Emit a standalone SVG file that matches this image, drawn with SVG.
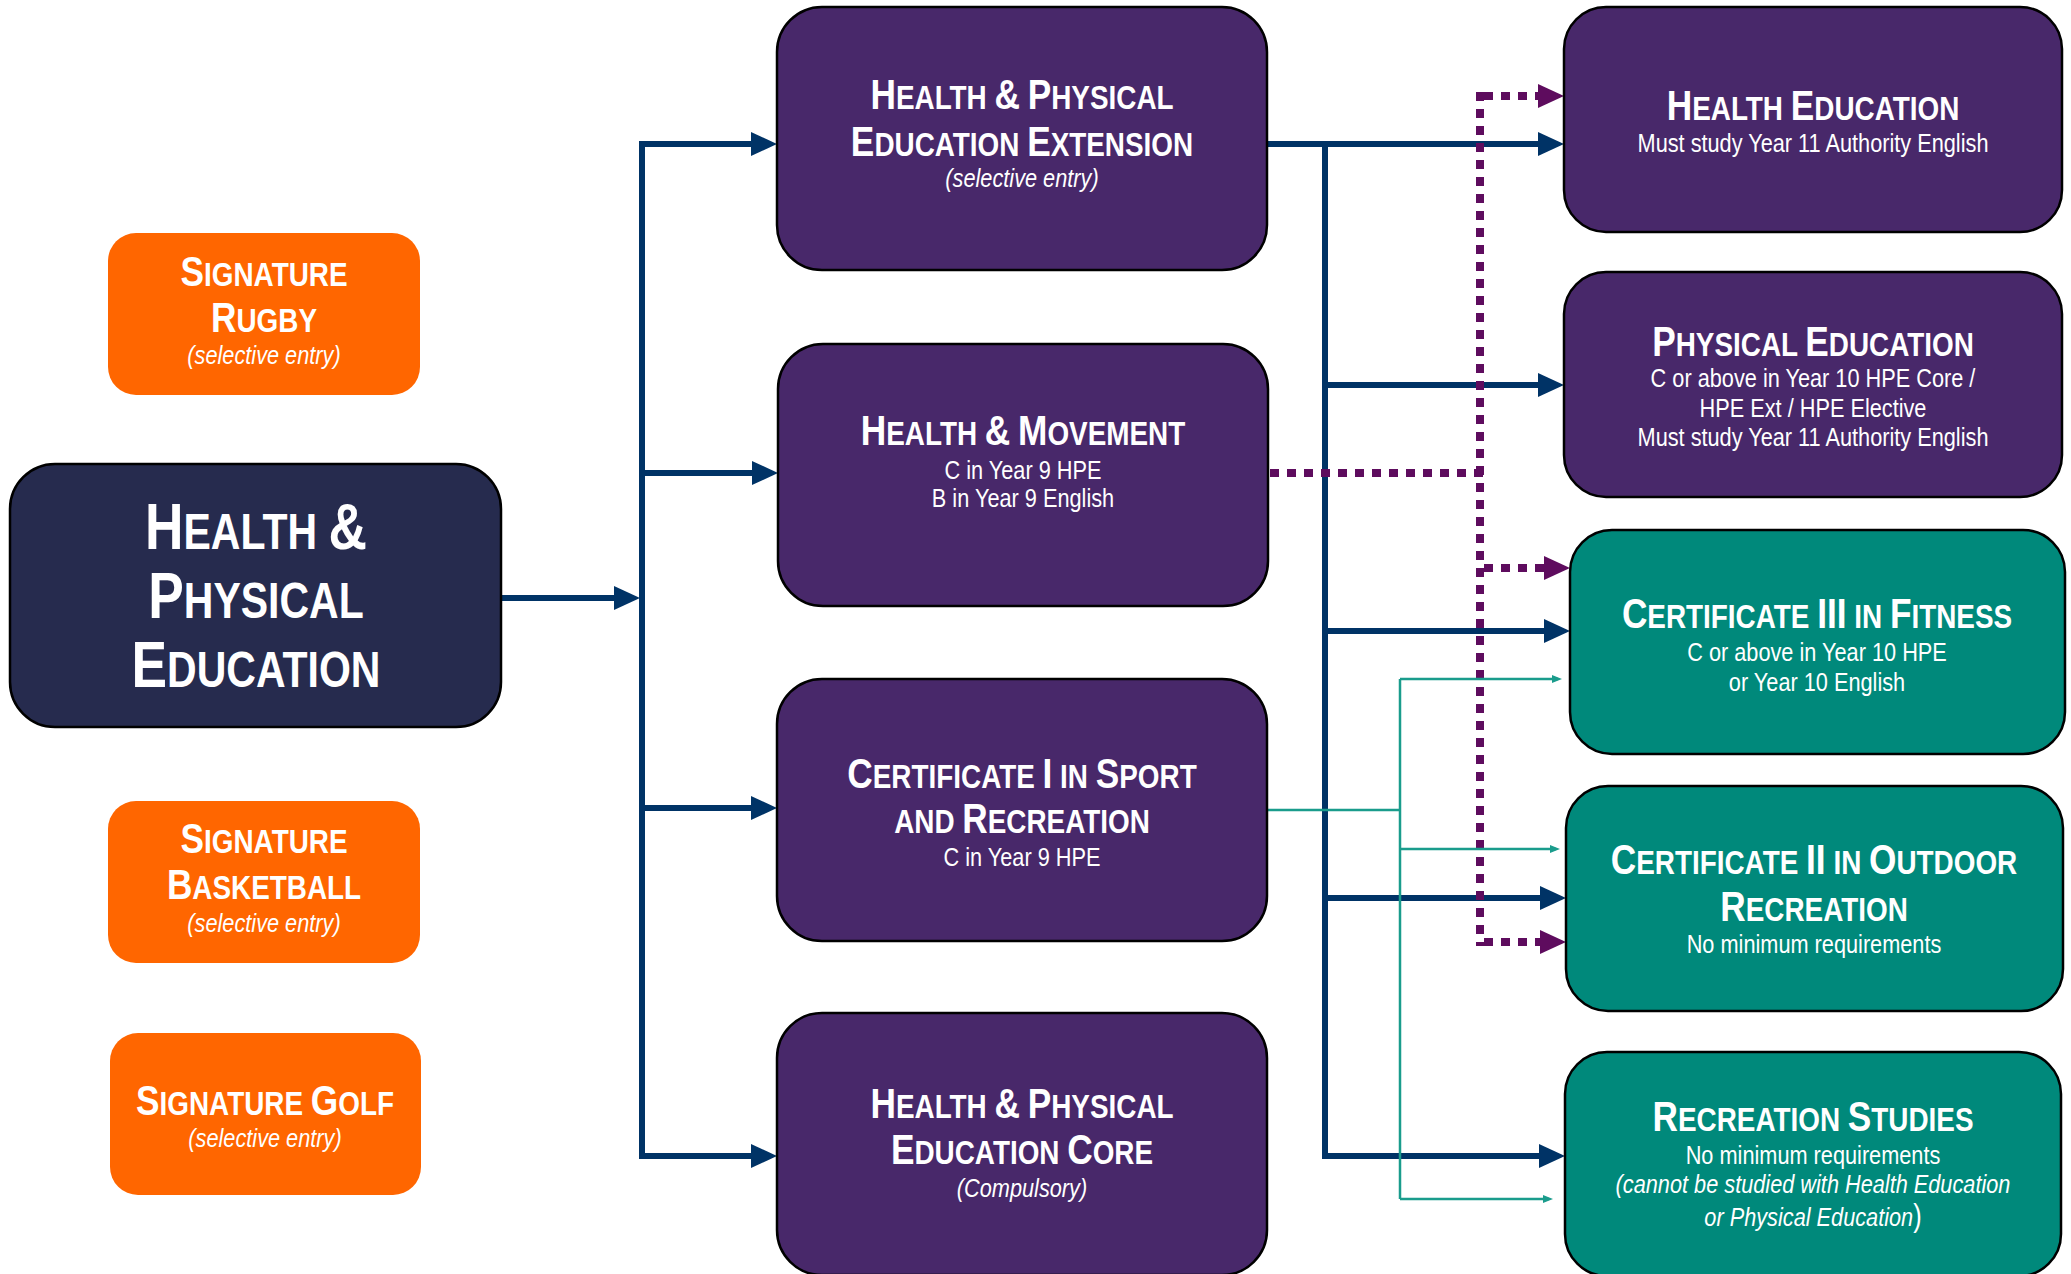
<svg xmlns="http://www.w3.org/2000/svg" width="2071" height="1274" viewBox="0 0 2071 1274">
<style>
.bx{stroke:#000;stroke-width:2.5}
.pu{fill:#48286A}
.te{fill:#00897B}
.or{fill:#FF6600}
.mn{fill:#262B4E}
text{font-family:'Liberation Sans',Arial,sans-serif;fill:#fff;text-anchor:middle}
.t{font-weight:bold;font-size:34px}
.t .L{font-size:43px}
.tm{font-weight:bold;font-size:50px}
.tm .L{font-size:65px}
.s{font-size:26.5px}
.i{font-style:italic}
.nv{stroke:#003366;stroke-width:6;fill:none}
.pd{stroke:#5E0C5E;stroke-width:8;fill:none;stroke-dasharray:9 8}
.tl{stroke:#1A9C8C;stroke-width:2.5;fill:none}
</style>
<defs>
<marker id="an" markerUnits="userSpaceOnUse" markerWidth="26" markerHeight="26" viewBox="0 0 26 26" refX="16" refY="13" orient="auto"><path d="M0,1 L26,13 L0,25 z" fill="#003366"/></marker>
<marker id="ap" markerUnits="userSpaceOnUse" markerWidth="26" markerHeight="26" viewBox="0 0 26 26" refX="16" refY="13" orient="auto"><path d="M0,1 L26,13 L0,25 z" fill="#5E0C5E"/></marker>
<marker id="at" markerUnits="userSpaceOnUse" markerWidth="10" markerHeight="10" viewBox="0 0 10 10" refX="6" refY="5" orient="auto"><path d="M0,1 L10,5 L0,9 z" fill="#1A9C8C"/></marker>
</defs>
<rect width="2071" height="1274" fill="#fff"/>
<g id="connectors">
<path class="nv" d="M501,598 H630" marker-end="url(#an)"/>
<path class="nv" d="M642,141 V1159"/>
<path class="nv" d="M642,144 H767" marker-end="url(#an)"/>
<path class="nv" d="M642,473 H768" marker-end="url(#an)"/>
<path class="nv" d="M642,808 H767" marker-end="url(#an)"/>
<path class="nv" d="M642,1156 H767" marker-end="url(#an)"/>
<path class="nv" d="M1267,144 H1554" marker-end="url(#an)"/>
<path class="nv" d="M1325,141 V1159"/>
<path class="nv" d="M1325,385 H1554" marker-end="url(#an)"/>
<path class="nv" d="M1325,631 H1560" marker-end="url(#an)"/>
<path class="nv" d="M1325,898 H1556" marker-end="url(#an)"/>
<path class="nv" d="M1325,1156 H1555" marker-end="url(#an)"/>
<path class="pd" d="M1270,473 H1484"/>
<path class="pd" d="M1480,92 V946"/>
<path class="pd" d="M1484,96 H1554" marker-end="url(#ap)"/>
<path class="pd" d="M1484,568 H1560" marker-end="url(#ap)"/>
<path class="pd" d="M1484,942 H1556" marker-end="url(#ap)"/>
<path class="tl" d="M1267,810 H1400"/>
<path class="tl" d="M1400,679 V1199"/>
<path class="tl" d="M1400,679 H1558" marker-end="url(#at)"/>
<path class="tl" d="M1400,849 H1556" marker-end="url(#at)"/>
<path class="tl" d="M1400,1199 H1549" marker-end="url(#at)"/>
</g>
<g id="main">
<rect class="bx mn" x="10" y="464" width="491" height="263" rx="45"/>
<g transform="translate(256 0) scale(0.82 1)">
<text class="tm" x="0" y="549"><tspan class="L">H</tspan>EALTH <tspan class="L">&amp;</tspan></text>
<text class="tm" x="0" y="618"><tspan class="L">P</tspan>HYSICAL</text>
<text class="tm" x="0" y="687"><tspan class="L">E</tspan>DUCATION</text>
</g>
</g>
<g id="sig-rugby">
<rect class="or" x="108" y="233" width="312" height="162" rx="28"/>
<g transform="translate(264 0) scale(0.82 1)">
<text class="t" x="0" y="286"><tspan class="L">S</tspan>IGNATURE</text>
<text class="t" x="0" y="332"><tspan class="L">R</tspan>UGBY</text>
<text class="s i" x="0" y="364">(selective entry)</text>
</g>
</g>
<g id="sig-basketball">
<rect class="or" x="108" y="801" width="312" height="162" rx="28"/>
<g transform="translate(264 0) scale(0.82 1)">
<text class="t" x="0" y="853"><tspan class="L">S</tspan>IGNATURE</text>
<text class="t" x="0" y="899"><tspan class="L">B</tspan>ASKETBALL</text>
<text class="s i" x="0" y="932">(selective entry)</text>
</g>
</g>
<g id="sig-golf">
<rect class="or" x="110" y="1033" width="311" height="162" rx="28"/>
<g transform="translate(265 0) scale(0.82 1)">
<text class="t" x="0" y="1115"><tspan class="L">S</tspan>IGNATURE <tspan class="L">G</tspan>OLF</text>
<text class="s i" x="0" y="1147">(selective entry)</text>
</g>
</g>
<g id="hpe-ext">
<rect class="bx pu" x="777" y="7" width="490" height="263" rx="45"/>
<g transform="translate(1022 0) scale(0.82 1)">
<text class="t" x="0" y="109"><tspan class="L">H</tspan>EALTH <tspan class="L">&amp;</tspan> <tspan class="L">P</tspan>HYSICAL</text>
<text class="t" x="0" y="156"><tspan class="L">E</tspan>DUCATION <tspan class="L">E</tspan>XTENSION</text>
<text class="s i" x="0" y="187">(selective entry)</text>
</g>
</g>
<g id="health-movement">
<rect class="bx pu" x="778" y="344" width="490" height="262" rx="45"/>
<g transform="translate(1023 0) scale(0.82 1)">
<text class="t" x="0" y="445"><tspan class="L">H</tspan>EALTH <tspan class="L">&amp;</tspan> <tspan class="L">M</tspan>OVEMENT</text>
<text class="s" x="0" y="479">C in Year 9 HPE</text>
<text class="s" x="0" y="507">B in Year 9 English</text>
</g>
</g>
<g id="cert-i">
<rect class="bx pu" x="777" y="679" width="490" height="262" rx="45"/>
<g transform="translate(1022 0) scale(0.82 1)">
<text class="t" x="0" y="788"><tspan class="L">C</tspan>ERTIFICATE <tspan class="L">I</tspan> IN <tspan class="L">S</tspan>PORT</text>
<text class="t" x="0" y="833">AND <tspan class="L">R</tspan>ECREATION</text>
<text class="s" x="0" y="866">C in Year 9 HPE</text>
</g>
</g>
<g id="hpe-core">
<rect class="bx pu" x="777" y="1013" width="490" height="262" rx="45"/>
<g transform="translate(1022 0) scale(0.82 1)">
<text class="t" x="0" y="1118"><tspan class="L">H</tspan>EALTH <tspan class="L">&amp;</tspan> <tspan class="L">P</tspan>HYSICAL</text>
<text class="t" x="0" y="1164"><tspan class="L">E</tspan>DUCATION <tspan class="L">C</tspan>ORE</text>
<text class="s i" x="0" y="1197">(Compulsory)</text>
</g>
</g>
<g id="health-ed">
<rect class="bx pu" x="1564" y="7" width="498" height="225" rx="42"/>
<g transform="translate(1813 0) scale(0.82 1)">
<text class="t" x="0" y="120"><tspan class="L">H</tspan>EALTH <tspan class="L">E</tspan>DUCATION</text>
<text class="s" x="0" y="152">Must study Year 11 Authority English</text>
</g>
</g>
<g id="phys-ed">
<rect class="bx pu" x="1564" y="272" width="498" height="225" rx="42"/>
<g transform="translate(1813 0) scale(0.82 1)">
<text class="t" x="0" y="356"><tspan class="L">P</tspan>HYSICAL <tspan class="L">E</tspan>DUCATION</text>
<text class="s" x="0" y="387">C or above in Year 10 HPE Core /</text>
<text class="s" x="0" y="417">HPE Ext / HPE Elective</text>
<text class="s" x="0" y="446">Must study Year 11 Authority English</text>
</g>
</g>
<g id="cert-iii">
<rect class="bx te" x="1570" y="530" width="495" height="224" rx="42"/>
<g transform="translate(1817 0) scale(0.82 1)">
<text class="t" x="0" y="628"><tspan class="L">C</tspan>ERTIFICATE <tspan class="L">III</tspan> IN <tspan class="L">F</tspan>ITNESS</text>
<text class="s" x="0" y="661">C or above in Year 10 HPE</text>
<text class="s" x="0" y="691">or Year 10 English</text>
</g>
</g>
<g id="cert-ii">
<rect class="bx te" x="1566" y="786" width="497" height="225" rx="42"/>
<g transform="translate(1814 0) scale(0.82 1)">
<text class="t" x="0" y="874"><tspan class="L">C</tspan>ERTIFICATE <tspan class="L">II</tspan> IN <tspan class="L">O</tspan>UTDOOR</text>
<text class="t" x="0" y="921"><tspan class="L">R</tspan>ECREATION</text>
<text class="s" x="0" y="953">No minimum requirements</text>
</g>
</g>
<g id="rec-studies">
<rect class="bx te" x="1565" y="1052" width="496" height="224" rx="42"/>
<g transform="translate(1813 0) scale(0.82 1)">
<text class="t" x="0" y="1131"><tspan class="L">R</tspan>ECREATION <tspan class="L">S</tspan>TUDIES</text>
<text class="s" x="0" y="1164">No minimum requirements</text>
<text class="s i" x="0" y="1193">(cannot be studied with Health Education</text>
<text class="s" x="0" y="1226"><tspan class="i">or Physical Education</tspan><tspan font-size="31">)</tspan></text>
</g>
</g>
</svg>
